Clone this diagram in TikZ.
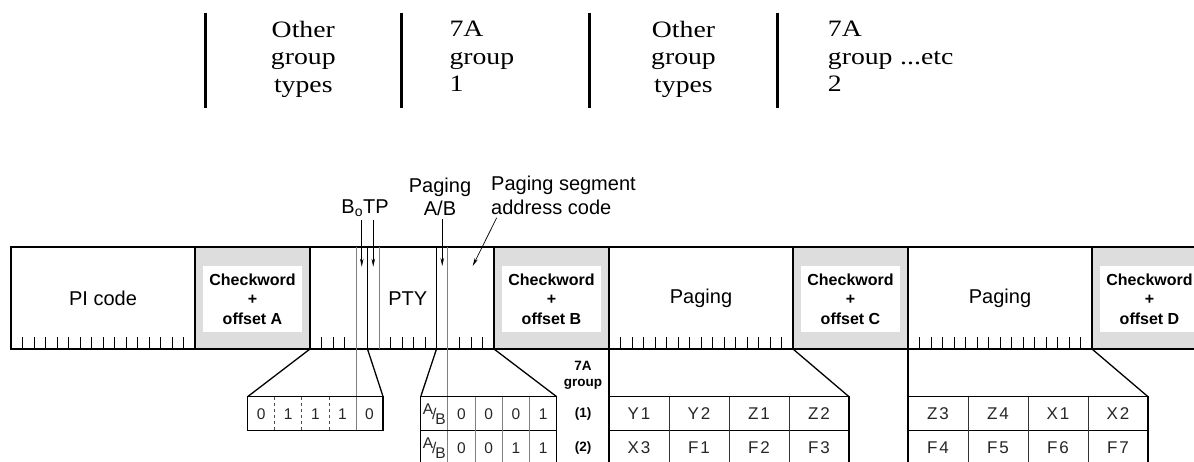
\documentclass[tikz,border=0pt]{standalone}
\usepackage{fontspec}
\setmainfont{Liberation Serif}
\setsansfont{Liberation Sans}
\usepackage{graphicx}
\usetikzlibrary{arrows.meta}

\definecolor{cwgrey}{HTML}{DDDDDD}
\newcommand{\hdr}[1]{\scalebox{1.18}[1]{#1}}
\newcommand{\ab}{\raisebox{5pt}{A}\kern-1pt/\kern-1pt\raisebox{-5pt}{B}}

\begin{document}
\begin{tikzpicture}[x=1pt, y=-1pt,
    hdrtext/.style={font=\fontsize{23.5}{27.5}\selectfont, inner sep=0pt},
    hbar/.style={line width=3pt},
    frame/.style={draw=black, line width=1.3pt},
    cwfill/.style={fill=cwgrey, draw=black, line width=1.3pt},
    cwbox/.style={fill=white, minimum width=99pt, minimum height=66pt,
                  inner sep=0pt, align=center,
                  font=\sffamily\bfseries\fontsize{16}{19.5}\selectfont},
    field/.style={font=\sffamily\fontsize{20}{24}\selectfont},
    lbl/.style={font=\sffamily\fontsize{20}{23.6}\selectfont, inner sep=3pt},
    tick/.style={draw=black, line width=0.7pt},
    bitline/.style={draw=black!50, line width=0.9pt},
    ptr/.style={-{Stealth[length=8pt, width=3.5pt]}, line width=0.7pt},
    cell/.style={font=\sffamily\fontsize{15.5}{15.5}\selectfont, text=black!85},
    pcell/.style={font=\sffamily\fontsize{17}{17}\selectfont, text=black!85},
    grp/.style={font=\sffamily\bfseries\fontsize{13.5}{15.5}\selectfont, align=center}
]
\path[use as bounding box, clip] (0,0) rectangle (1194,461);

% group sequence heading
\draw[hbar] (205,13) -- (205,108);
\draw[hbar] (401.7,13) -- (401.7,108);
\draw[hbar] (589.3,13) -- (589.3,108);
\draw[hbar] (777.7,13) -- (777.7,108);
\node[hdrtext, align=center] (other1) at (303.3,59) {\hdr{Other}\\\hdr{group}\\\hdr{types}};
\node[hdrtext, align=left, anchor=west] (grpone) at (449.3,56.6) {\hdr{7A}\\\hdr{group}\\\hdr{1}};
\node[hdrtext, align=center] (other2) at (683.5,59) {\hdr{Other}\\\hdr{group}\\\hdr{types}};
\node[hdrtext, align=left, anchor=west] (grptwo) at (827.7,56.6) {\hdr{7A}\\\hdr{group}\\\hdr{2}};
\node[hdrtext, anchor=base west] (etc) at (900,64.2) {\hdr{...etc}};

% block bar
\foreach \s in {195,494,793,1092}
    \draw[cwfill] (\s,247) rectangle ++(115,102);
\draw[frame] (11,247) rectangle (1207,349);
\foreach \s in {11,609,908}
    \foreach \k in {1,...,15}
        \draw[tick] ({\s+\k*11.5},337) -- ({\s+\k*11.5},349);
\foreach \k in {1,2,3,7,8,9,10,13,14,15}
    \draw[tick] ({310+\k*11.5},337) -- ({310+\k*11.5},349);

\node[cwbox] (cwA) at (252.5,299) {Checkword\\+\\offset A};
\node[cwbox] (cwB) at (551.5,299) {Checkword\\+\\offset B};
\node[cwbox] (cwC) at (850.5,299) {Checkword\\+\\offset C};
\node[cwbox] (cwD) at (1149.5,299) {Checkword\\+\\offset D};

\node[field] (pi) at (103,298) {PI code};
\node[field] (pty) at (407.8,299) {PTY};
\node[field] (pag1) at (701,298) {Paging};
\node[field] (pag2) at (1000,298) {Paging};

% bit boundaries of block 2
\coordinate (b0) at (361.75,266.7);
\coordinate (tp) at (373.25,266.7);
\coordinate (abit) at (442.25,266);
\coordinate (segpt) at (472.7,266);
\draw[bitline] (356,247) -- (356,430.7);
\draw[frame] (367.5,247) -- (367.5,349);
\draw[bitline] (379,247) -- (379,349);
\draw[frame] (436.5,247) -- (436.5,349);
\draw[bitline] (447.9,247) -- (447.9,470);

% labels above
\node[lbl, anchor=base] (botp) at (365,213.3) {B\textsubscript{o}TP};
\node[lbl, align=center] (pagab) at (440,197) {Paging\\A/B};
\node[lbl, align=left, anchor=west] (seg) at (488,195.4) {Paging segment\\address code};
\draw[ptr] (botp.south -| b0) -- (b0);
\draw[ptr] (botp.south -| tp) -- (tp);
\draw[ptr] (pagab.south -| abit) -- (abit);
\draw[ptr] ([xshift=8.7pt]seg.south west) -- (segpt);

% group type code
\draw[frame] (310,349) -- (247.6,396.7);
\draw[frame] (367.5,349) -- (383.1,396.7);
\draw[frame] (247.6,396.7) rectangle (383.1,430.7);
\foreach \x in {274.7,301.8,328.9}
    \draw[black!70, line width=0.8pt, dash pattern=on 3pt off 3pt] (\x,396.7) -- (\x,430.7);
\foreach \t [count=\i from 0] in {0,1,1,1,0}
    \node[cell] (gt\i) at ({261.15+\i*27.1},413.7) {\t};

% paging A/B and segment address
\draw[frame] (436.5,349) -- (420.7,396.7);
\draw[frame] (494,349) -- (556.7,396.7);
\draw[frame] (420.7,396.7) rectangle (556.7,470);
\draw[frame] (420.7,430.7) -- (556.7,430.7);
\foreach \x in {475.1,502.3,529.5}
    \draw[bitline] (\x,396.7) -- (\x,470);
\node[cell, font=\sffamily\fontsize{15.5}{15.5}\selectfont, inner sep=0pt] (abA) at (434.3,413.7) {\ab};
\node[cell, font=\sffamily\fontsize{15.5}{15.5}\selectfont, inner sep=0pt] (abB) at (434.3,447.7) {\ab};
\foreach \t [count=\i from 0] in {0,0,0,1}
    \node[cell] (sa\i) at ({461.5+\i*27.2},413.7) {\t};
\foreach \t [count=\i from 0] in {0,0,1,1}
    \node[cell] (sb\i) at ({461.5+\i*27.2},447.7) {\t};

\node[grp] (grphead) at (583,375.5) {7A\\group};
\node[grp] (row1) at (583,414.5) {(1)};
\node[grp] (row2) at (583,448.5) {(2)};

% paging blocks
\draw[frame] (609,349) -- (609,470);
\draw[frame] (793,349) -- (849,396.7);
\draw[frame] (609,396.7) rectangle (849,470);
\draw[frame] (609,430.7) -- (849,430.7);
\draw[frame] (908,349) -- (908,470);
\draw[frame] (1092,349) -- (1148,396.7);
\draw[frame] (908,396.7) rectangle (1148,470);
\draw[frame] (908,430.7) -- (1148,430.7);
\foreach \x in {669,729,789,968,1028,1088}
    \draw[black!80, line width=0.8pt] (\x,396.7) -- (\x,470);
\foreach \t [count=\i from 0] in {Y\kern2pt1,Y\kern2pt2,Z\kern2pt1,Z\kern2pt2,Z\kern2pt3,Z\kern2pt4,X\kern2pt1,X\kern2pt2}
    \node[pcell] (pa\i) at ({\i<4 ? 639+\i*60 : 938+(\i-4)*60},413.7) {\t};
\foreach \t [count=\i from 0] in {X\kern2pt3,F\kern2pt1,F\kern2pt2,F\kern2pt3,F\kern2pt4,F\kern2pt5,F\kern2pt6,F\kern2pt7}
    \node[pcell] (pb\i) at ({\i<4 ? 639+\i*60 : 938+(\i-4)*60},447.7) {\t};

\end{tikzpicture}
\end{document}
